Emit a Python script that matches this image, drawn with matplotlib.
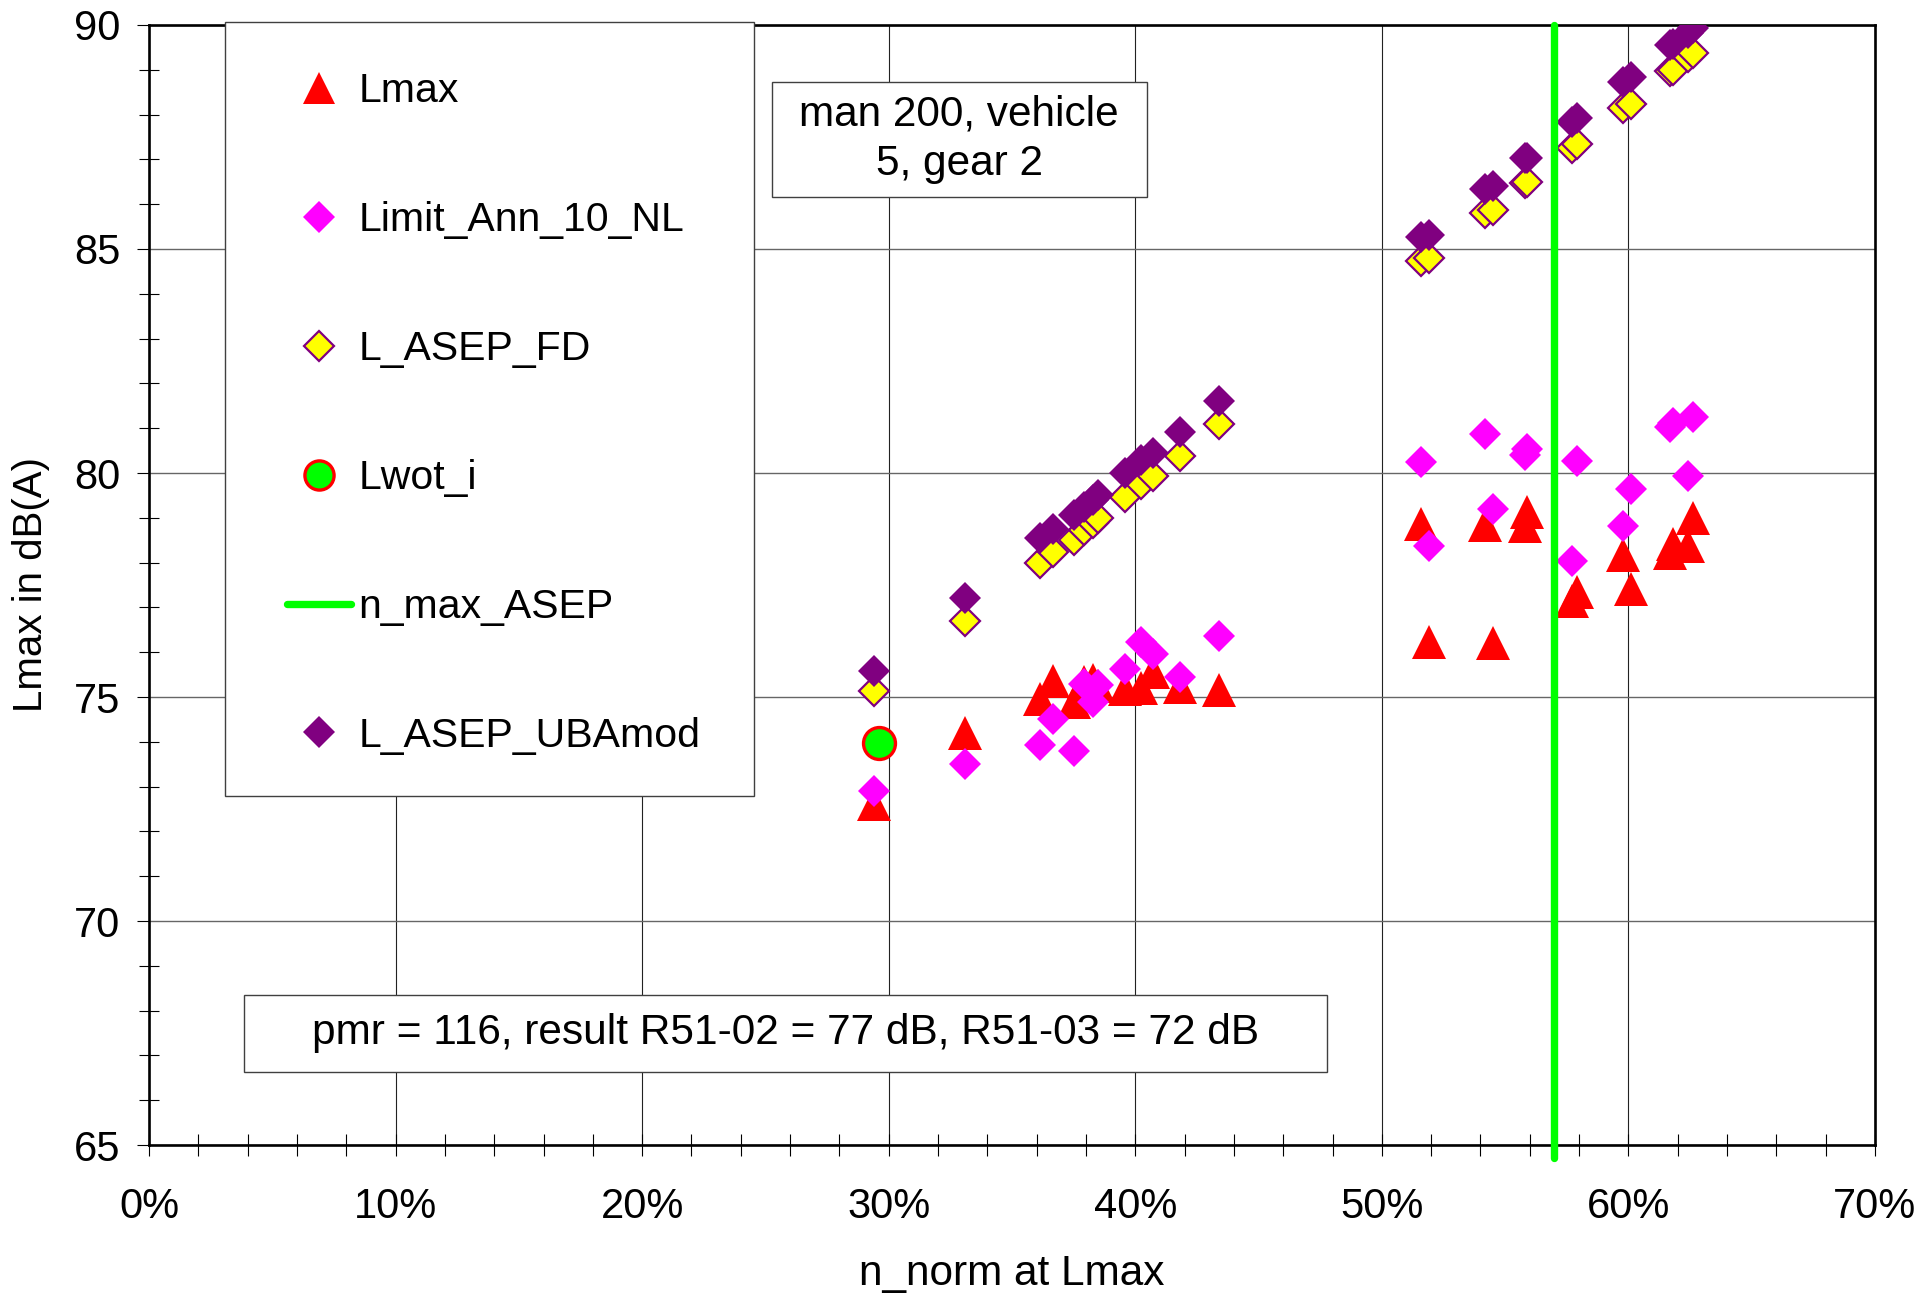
import matplotlib
matplotlib.use("Agg")
import matplotlib.pyplot as plt
from matplotlib.patches import Rectangle
from matplotlib.lines import Line2D
from matplotlib.ticker import MultipleLocator, PercentFormatter

plt.rcParams['font.family'] = ['Liberation Sans', 'DejaVu Sans']

# n_norm at Lmax in %
n_norm = [29.4, 33.1, 36.15, 36.65, 37.5, 37.9, 38.3, 38.5, 39.6, 40.25, 40.7, 41.8, 43.4,
          51.6, 51.9, 54.2, 54.5, 55.8, 55.9, 57.7, 57.9, 59.8, 60.1, 61.7, 61.8, 62.4, 62.6]

lmax = [72.61, 74.2, 74.95, 75.36, 74.88, 75.33, 75.38, 75.25, 75.19, 75.2, 75.55, 75.22, 75.15,
        78.86, 76.22, 78.83, 76.2, 78.81, 79.13, 77.15, 77.35, 78.17, 77.4, 78.22, 78.42, 78.37, 78.99]

limit_ann_10_nl = [72.91, 73.5, 73.93, 74.52, 73.79, 75.29, 74.88, 75.27, 75.63, 76.22, 75.96, 75.44, 76.37,
                   80.25, 78.36, 80.86, 79.2, 80.4, 80.53, 78.04, 80.27, 78.82, 79.64, 81.03, 81.12, 79.93, 81.26]

l_asep_fd = [75.13, 76.7, 78.0, 78.23, 78.5, 78.73, 78.88, 78.99, 79.47, 79.75, 79.93, 80.38, 81.09,
             84.74, 84.79, 85.8, 85.86, 86.48, 86.5, 87.25, 87.34, 88.14, 88.24, 88.98, 89.0, 89.28, 89.37]

l_asep_ubamod = [75.59, 77.2, 78.54, 78.75, 79.06, 79.25, 79.4, 79.52, 80.01, 80.29, 80.45, 80.92, 81.61,
                 85.26, 85.31, 86.35, 86.41, 87.02, 87.04, 87.84, 87.92, 88.73, 88.83, 89.55, 89.57, 89.81, 89.93]

lwot_x = [29.6]
lwot_y = [73.97]

n_max_asep = 57.0

info_text = "man 200, vehicle\n5, gear 2"
result_text = "pmr = 116, result R51-02 = 77 dB, R51-03 = 72 dB"

###################################
#     Plot                      ###
###################################

fig = plt.figure(figsize=(19.3, 12.94), dpi=100)
ax = fig.add_axes([0.0772, 0.1151, 0.8943, 0.8656])

ax.plot(n_norm, lmax, linestyle='none', marker='^', ms=24, color='#FF0000', mew=0, zorder=3)
ax.plot(n_norm, limit_ann_10_nl, linestyle='none', marker='D', ms=16.5, color='#FF00FF', mew=0, zorder=4)
ax.plot(n_norm, l_asep_fd, linestyle='none', marker='D', ms=15.2, mfc='#FFFF00', mec='#800080',
        mew=1.6, zorder=5)
ax.plot(lwot_x, lwot_y, linestyle='none', marker='o', ms=23, mfc='#00FF00', mec='#FF0000', mew=2.4, zorder=5)
ax.plot([n_max_asep, n_max_asep], [64.72, 90], color='#00FF00', lw=5.3, solid_capstyle='round',
        clip_on=False, zorder=6)
ax.plot(n_norm, l_asep_ubamod, linestyle='none', marker='D', ms=16.5, color='#800080', mew=0, zorder=5)

ax.set_xlim(0, 70)
ax.set_ylim(65, 90)
ax.xaxis.set_major_locator(MultipleLocator(10))
ax.xaxis.set_minor_locator(MultipleLocator(2))
ax.yaxis.set_major_locator(MultipleLocator(5))
ax.yaxis.set_minor_locator(MultipleLocator(1))
ax.xaxis.set_major_formatter(PercentFormatter(decimals=0))

ax.grid(True, which='major', axis='x', color='#222222', lw=0.8)
ax.grid(True, which='major', axis='y', color='#666666', lw=1.0)
ax.set_axisbelow(True)

ax.tick_params(axis='x', which='both', direction='inout', length=15.8, width=0.8, labelsize=30, pad=22)
ax.tick_params(axis='y', which='major', direction='out', length=8.6, width=0.8, labelsize=30, pad=12)
ax.tick_params(axis='y', which='minor', direction='inout', length=13.7, width=0.8)
for s in ax.spines.values():
    s.set_linewidth(1.9)
    s.set_color('black')

fig.text(0.016, 0.548, "Lmax in dB(A)", rotation=90, ha='center', va='center', fontsize=29)
fig.text(0.5244, 0.0155, "n_norm at Lmax", ha='center', va='center', fontsize=30.5)

# text boxes
ax.add_patch(Rectangle((0.3608, 0.8467), 0.2173, 0.1027, transform=ax.transAxes, facecolor='white',
                       edgecolor='#404040', lw=1.0, zorder=7))
ax.text(0.4694, 0.898, info_text, transform=ax.transAxes, ha='center', va='center', fontsize=30.5,
        linespacing=1.3, zorder=8)
ax.add_patch(Rectangle((0.0552, 0.0654), 0.6273, 0.0685, transform=ax.transAxes, facecolor='white',
                       edgecolor='#404040', lw=1.0, zorder=7))
ax.text(0.3689, 0.0997, result_text, transform=ax.transAxes, ha='center', va='center', fontsize=30.5, zorder=8)

# legend
ax.add_patch(Rectangle((0.044, 0.3116), 0.3065, 0.6911, transform=ax.transAxes, facecolor='white',
                       edgecolor='#404040', lw=1.0, zorder=7, clip_on=False))
handles = [
    Line2D([], [], linestyle='none', marker='^', ms=23.5, color='#FF0000', mew=0),
    Line2D([], [], linestyle='none', marker='D', ms=16, color='#FF00FF', mew=0),
    Line2D([], [], linestyle='none', marker='D', ms=14.8, mfc='#FFFF00', mec='#800080', mew=1.6),
    Line2D([], [], linestyle='none', marker='o', ms=21, mfc='#00FF00', mec='#FF0000', mew=2.4),
    Line2D([], [], color='#00FF00', lw=5.3, solid_capstyle='round'),
    Line2D([], [], linestyle='none', marker='D', ms=16, color='#800080', mew=0),
]
labels = ['Lmax', 'Limit_Ann_10_NL', 'L_ASEP_FD', 'Lwot_i', 'n_max_ASEP', 'L_ASEP_UBAmod']
leg = ax.legend(handles, labels, loc='upper left', bbox_to_anchor=(0.08, 0.958), frameon=False,
                borderpad=0, borderaxespad=0, fontsize=29.5, labelspacing=2.22, handlelength=1.57,
                handletextpad=0.17)
leg.set_zorder(9)

plt.savefig('out.png', dpi=100)
